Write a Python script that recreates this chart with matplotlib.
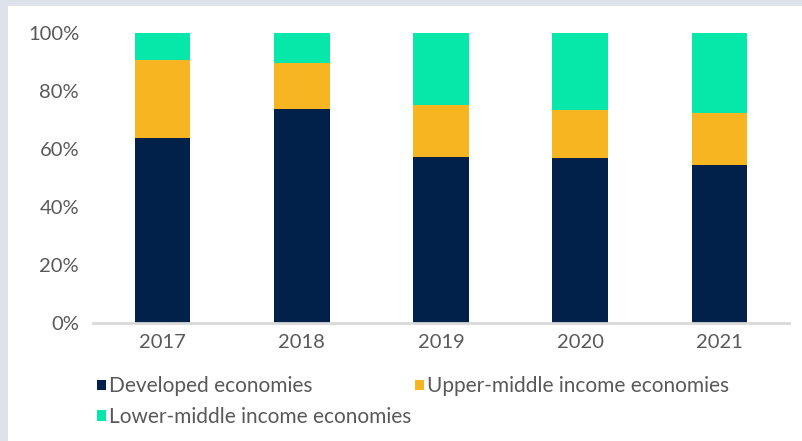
import matplotlib
matplotlib.use("Agg")
import matplotlib.pyplot as plt
from matplotlib.patches import Rectangle, Patch
from matplotlib.ticker import PercentFormatter

plt.rcParams['font.family'] = ['Lato', 'DejaVu Sans']

# shares by income group, per year
years = ['2017', '2018', '2019', '2020', '2021']
developed = [0.638, 0.738, 0.573, 0.568, 0.546]
upper_middle = [0.269, 0.158, 0.179, 0.166, 0.179]
lower_middle = [0.093, 0.104, 0.248, 0.266, 0.275]

series = ['Developed economies', 'Upper-middle income economies', 'Lower-middle income economies']
colors = ['#01204A', '#F7B522', '#06E8A9']

W, H = 802, 441
fig = plt.figure(figsize=(W / 100, H / 100), dpi=100, facecolor='white')

# light frame along the top and left edges
fig.patches.append(Rectangle((0, 1 - 6 / H), 1, 6 / H, transform=fig.transFigure,
                             facecolor='#DEE2EB', edgecolor='none', zorder=0))
fig.patches.append(Rectangle((0, 0), 8 / W, 1, transform=fig.transFigure,
                             facecolor='#DEE2EB', edgecolor='none', zorder=0))

ax = fig.add_axes([93 / W, (H - 322.7) / H, (789 - 93) / W, (322.7 - 33.3) / H])

x = range(len(years))
bottom = [0] * len(years)
for vals, col in zip([developed, upper_middle, lower_middle], colors):
    ax.bar(x, vals, width=0.40, bottom=bottom, color=col, edgecolor='none')
    bottom = [b + v for b, v in zip(bottom, vals)]

ax.set_xlim(-0.5, len(years) - 0.5)
ax.set_ylim(0, 1)
ax.set_yticks([0, 0.2, 0.4, 0.6, 0.8, 1.0])
ax.yaxis.set_major_formatter(PercentFormatter(1.0, decimals=0))
ax.set_xticks(list(x))
ax.set_xticklabels(years)
ax.tick_params(axis='both', length=0, labelsize=14.5, colors='#595959')
ax.tick_params(axis='y', pad=10)
ax.tick_params(axis='x', pad=8)

for s in ['top', 'right', 'left']:
    ax.spines[s].set_visible(False)
ax.spines['bottom'].set_color('#D9D9D9')
ax.spines['bottom'].set_linewidth(2)

# legend: column-major fill, so order gives Developed / Lower on the left, Upper on the right
handles = [Patch(facecolor=colors[0]), Patch(facecolor=colors[2]), Patch(facecolor=colors[1])]
labels = [series[0], series[2], series[1]]
fig.legend(handles, labels, ncol=2, loc='upper left',
           bbox_to_anchor=(89 / W, (H - 368) / H), frameon=False,
           fontsize=15, labelcolor='#595959', handlelength=0.4, handleheight=0.4,
           handletextpad=0.15, columnspacing=0.2, labelspacing=0.5, borderaxespad=0)

fig.savefig('out.png', dpi=100, facecolor='white')
